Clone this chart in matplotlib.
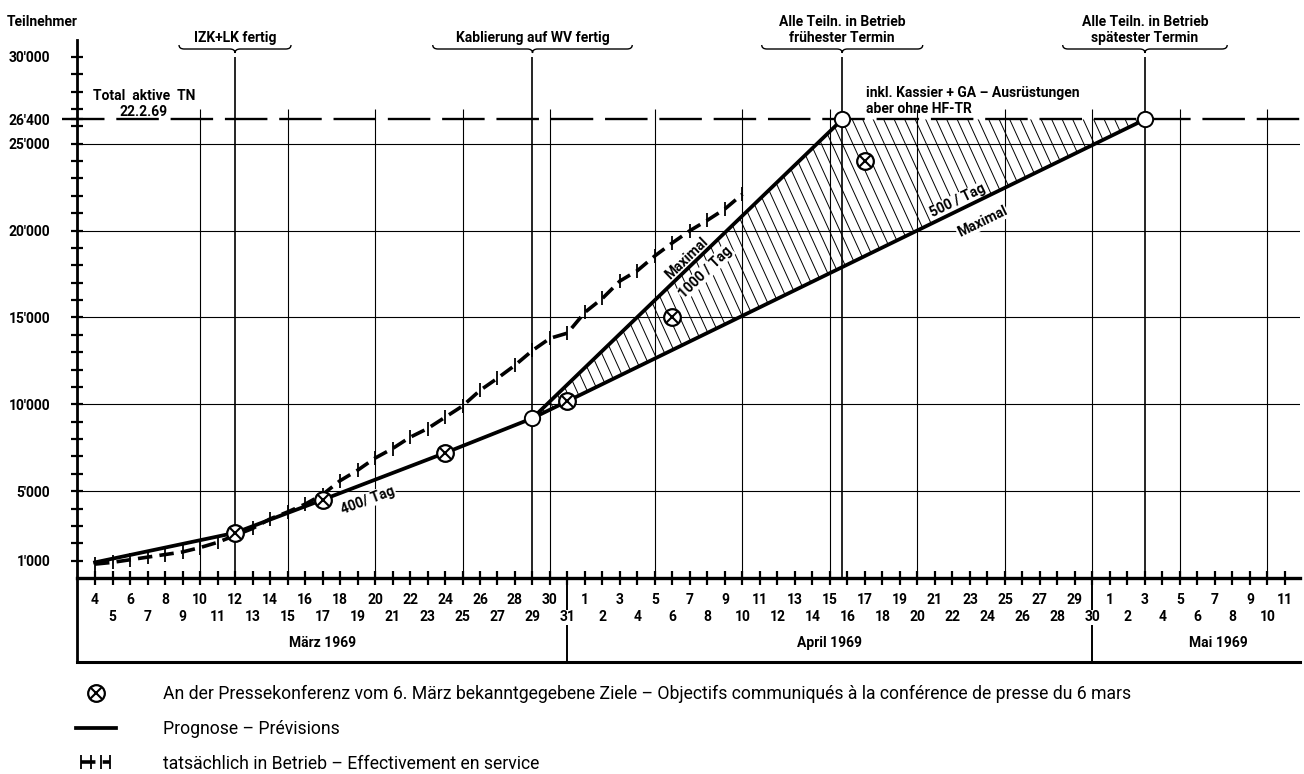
import numpy as np
import matplotlib
matplotlib.use("Agg")
import matplotlib.pyplot as plt
import matplotlib.transforms as mtransforms
from matplotlib.path import Path
from matplotlib.patches import PathPatch, Polygon
from matplotlib.collections import LineCollection
from matplotlib.legend_handler import HandlerLine2D
from matplotlib.font_manager import FontProperties, fontManager
from matplotlib.ticker import FixedLocator, FuncFormatter

# day numbers counted from 1 March 1969 (1 April = 32, 1 May = 62)
prog_days = [4, 12, 17, 24, 29]
prog_vals = [900, 2600, 4500, 7200, 9200]
fast_days = [29, 46.7]
fast_vals = [9200, 26400]
slow_days = [29, 64]
slow_vals = [9200, 26400]
goal_days = [12, 17, 24, 31, 37, 48]
goal_vals = [2600, 4500, 7200, 10200, 15000, 24000]
node_days = [29, 46.7, 64]
node_vals = [9200, 26400, 26400]
real_days = list(range(4, 42))
real_vals = [800, 900, 1050, 1200, 1350, 1500, 1750, 2050, 2450, 2850,
             3400, 3800, 4250, 4800, 5600, 6200, 6900, 7450, 8100, 8600,
             9250, 9900, 10800, 11500, 12250, 13100, 13800, 14100, 15300, 16100,
             17100, 17700, 18550, 19300, 20000, 20600, 21250, 22100]
total_tn = 26400

mile_days = [12, 29, 46.7, 64]
mile_labels = ["IZK+LK fertig", "Kablierung auf WV fertig",
               "Alle Teiln. in Betrieb\nfrühester Termin",
               "Alle Teiln. in Betrieb\nspätester Termin"]
grid_days = [10, 15, 20, 25, 30, 36, 41, 46, 51, 56, 61, 66, 71]
y_labels = [1000, 5000, 10000, 15000, 20000, 25000, 26400, 30000]
months = ["März 1969", "April 1969", "Mai 1969"]
month_ends = [31, 61]
legend_labels = [
    "An der Pressekonferenz vom 6. März bekanntgegebene Ziele – Objectifs communiqués à la conférence de presse du 6 mars",
    "Prognose – Prévisions",
    "tatsächlich in Betrieb – Effectivement en service"]

plt.rcParams['font.family'] = ['Roboto', 'DejaVu Sans']
plt.rcParams['font.weight'] = 'bold'

# a narrow face for the legend if there is one
names = {f.name for f in fontManager.ttflist}
if 'Liberation Sans Narrow' in names:
    leg_font = FontProperties(family=['Liberation Sans Narrow', 'DejaVu Sans'], size=13, weight='normal')
else:
    leg_font = FontProperties(family=['Roboto', 'DejaVu Sans'], size=12.7, weight='normal')

W, H = 1304, 774
fig = plt.figure(figsize=(W / 100, H / 100), dpi=100)
ax = fig.add_axes([77 / W, 196 / H, 1223 / W, 538 / H])
x0, x1 = 2.97, 72.86
ax.set_xlim(x0, x1)
ax.set_ylim(0, 30973)
px = 1 / 538  # one pixel in axes fraction (vertical)

def day_label(d, pos=None):
    d = int(round(d))
    if d <= 31:
        return str(d)
    if d <= 61:
        return str(d - 31)
    return str(d - 61)

ax.spines[['top', 'right']].set_visible(False)
ax.spines['left'].set_linewidth(2)
ax.spines['bottom'].set_linewidth(2.4)

ax.yaxis.set_major_locator(FixedLocator(y_labels))
ax.yaxis.set_minor_locator(FixedLocator(range(1000, 31000, 1000)))
ax.yaxis.set_major_formatter(FuncFormatter(lambda v, p: f"{int(v):,}".replace(",", "'")))
ax.tick_params(axis='y', which='both', direction='inout', length=8.6, width=1.6, pad=15, labelsize=10)

ax.xaxis.set_major_locator(FixedLocator(range(4, 73, 2)))
ax.xaxis.set_minor_locator(FixedLocator(range(5, 72, 2)))
ax.xaxis.set_major_formatter(FuncFormatter(day_label))
ax.xaxis.set_minor_formatter(FuncFormatter(day_label))
ax.tick_params(axis='x', which='both', direction='inout', length=9.4, width=1.6, labelsize=10)
ax.tick_params(axis='x', which='major', pad=6)
ax.tick_params(axis='x', which='minor', pad=18.5)
for t in ax.get_xticklabels(which='both'):
    t.set_bbox(dict(fc='white', ec='none', pad=0.5))

# grid
ax.vlines(grid_days, 0, 27000, color='black', lw=0.8, zorder=1)
for v in range(5000, 26000, 5000):
    ax.axhline(v, color='black', lw=0.8, zorder=1)
ax.vlines(mile_days, 0, 30000, color='black', lw=1.2, zorder=1)
ax.axhline(total_tn, xmin=-0.012, color='black', lw=1.7, dashes=(18, 5),
           clip_on=False, zorder=2)

# hatched range between the two forecasts
tri = Polygon(list(zip([29, 46.7, 64], [9200, 26400, 26400])), closed=True,
              fc='none', ec='none')
ax.add_patch(tri)
starts = np.arange(14, 66, 0.6)
hatch = LineCollection([[(s, 27000), (s + 12.2, 0)] for s in starts],
                       colors='black', linewidths=0.7, zorder=2)
hatch.set_clip_path(tri)
ax.add_collection(hatch)

# lines
prog_line, = ax.plot(prog_days, prog_vals, color='black', lw=2.7, zorder=4)
ax.plot(fast_days, fast_vals, color='black', lw=2.7, zorder=4)
ax.plot(slow_days, slow_vals, color='black', lw=2.7, zorder=4)
real_line, = ax.plot(real_days, real_vals, color='black', lw=2.6, dashes=(4, 2),
                     marker='|', ms=10, mew=1.3, zorder=3)
goal_o, = ax.plot(goal_days, goal_vals, ls='none', marker='o', ms=12, mfc='white',
                  mec='black', mew=1.6, zorder=5)
goal_x, = ax.plot(goal_days, goal_vals, ls='none', marker='x', ms=8, mew=1.5,
                  color='black', zorder=6)
ax.plot(node_days, node_vals, ls='none', marker='o', ms=11, mfc='white',
        mec='black', mew=1.4, zorder=5)

def angle(xs, ys):
    p = ax.transData.transform(list(zip(xs, ys)))
    return np.degrees(np.arctan2(p[1, 1] - p[0, 1], p[1, 0] - p[0, 0]))

lab = dict(ha='center', va='center', fontsize=10, rotation_mode='anchor',
           bbox=dict(fc='white', ec='none', pad=0.5), zorder=3)
ax.text(19.6, 4480, "400/ Tag", rotation=angle(prog_days[1:], prog_vals[1:]), **lab)
ax.text(37.8, 18420, "Maximal", rotation=angle(fast_days, fast_vals), **lab)
ax.text(38.9, 17620, "1000 / Tag", rotation=angle(fast_days, fast_vals), **lab)
ax.text(53.3, 21700, "500 / Tag", rotation=angle(slow_days, slow_vals), **lab)
ax.text(54.7, 20500, "Maximal", rotation=angle(slow_days, slow_vals), **lab)

ax.text(6.8, 26450, "Total  aktive  TN\n22.2.69", ha='center', va='bottom',
        multialignment='center', fontsize=10, linespacing=1.15)
ax.text(48.06, 26600, "inkl. Kassier + GA – Ausrüstungen\naber ohne HF-TR",
        ha='left', va='bottom', fontsize=10, linespacing=1.15)

# milestone captions with braces
trans = mtransforms.blended_transform_factory(ax.transData, ax.transAxes)
half_widths = [3.2, 5.7, 4.6, 4.7]
for d, text, hw in zip(mile_days, mile_labels, half_widths):
    ax.text(d, 1 - 5 * px, text, transform=trans, ha='center', va='bottom',
            multialignment='center', fontsize=10, linespacing=1.15, clip_on=False)
    yt, yf, yp, e = 1 - 5 * px, 1 - 9 * px, 1 - 13 * px, 0.3
    verts = [(d - hw, yt), (d - hw, yf), (d - hw + e, yf), (d - e, yf),
             (d, yf), (d, yp), (d, yf), (d + e, yf), (d + hw - e, yf),
             (d + hw, yf), (d + hw, yt)]
    codes = [Path.MOVETO, Path.CURVE3, Path.CURVE3, Path.LINETO,
             Path.CURVE3, Path.CURVE3, Path.CURVE3, Path.CURVE3, Path.LINETO,
             Path.CURVE3, Path.CURVE3]
    ax.add_patch(PathPatch(Path(verts, codes), fc='none', ec='black', lw=1.0,
                           transform=trans, clip_on=False))

# month box below the day axis
box_y = -84 * px
ax.plot([x0, x1], [box_y, box_y], transform=trans, color='black', lw=2.2, clip_on=False)
ax.plot([x0, x0], [0, box_y], transform=trans, color='black', lw=2, clip_on=False)
for d in month_ends:
    ax.plot([d, d], [6 * px, box_y], transform=trans, color='black', lw=1.4,
            clip_on=False, zorder=0.5)
for pos, name in zip([17, 46, 68.2], months):
    ax.text(pos, -65 * px, name, transform=trans, ha='center', va='center', fontsize=10)

fig.text(7 / W, 1 - 22 / H, "Teilnehmer", ha='left', va='center', fontsize=10)

leg = ax.legend([(goal_o, goal_x), prog_line, real_line], legend_labels,
                loc='upper left', bbox_to_anchor=(76 / W, 1 - 685 / H),
                bbox_transform=fig.transFigure, frameon=False,
                handlelength=2.25, handletextpad=2.7, labelspacing=0.95,
                borderaxespad=0, borderpad=0, prop=leg_font,
                handler_map={real_line: HandlerLine2D(numpoints=4)})

fig.savefig("out.png", dpi=100)
